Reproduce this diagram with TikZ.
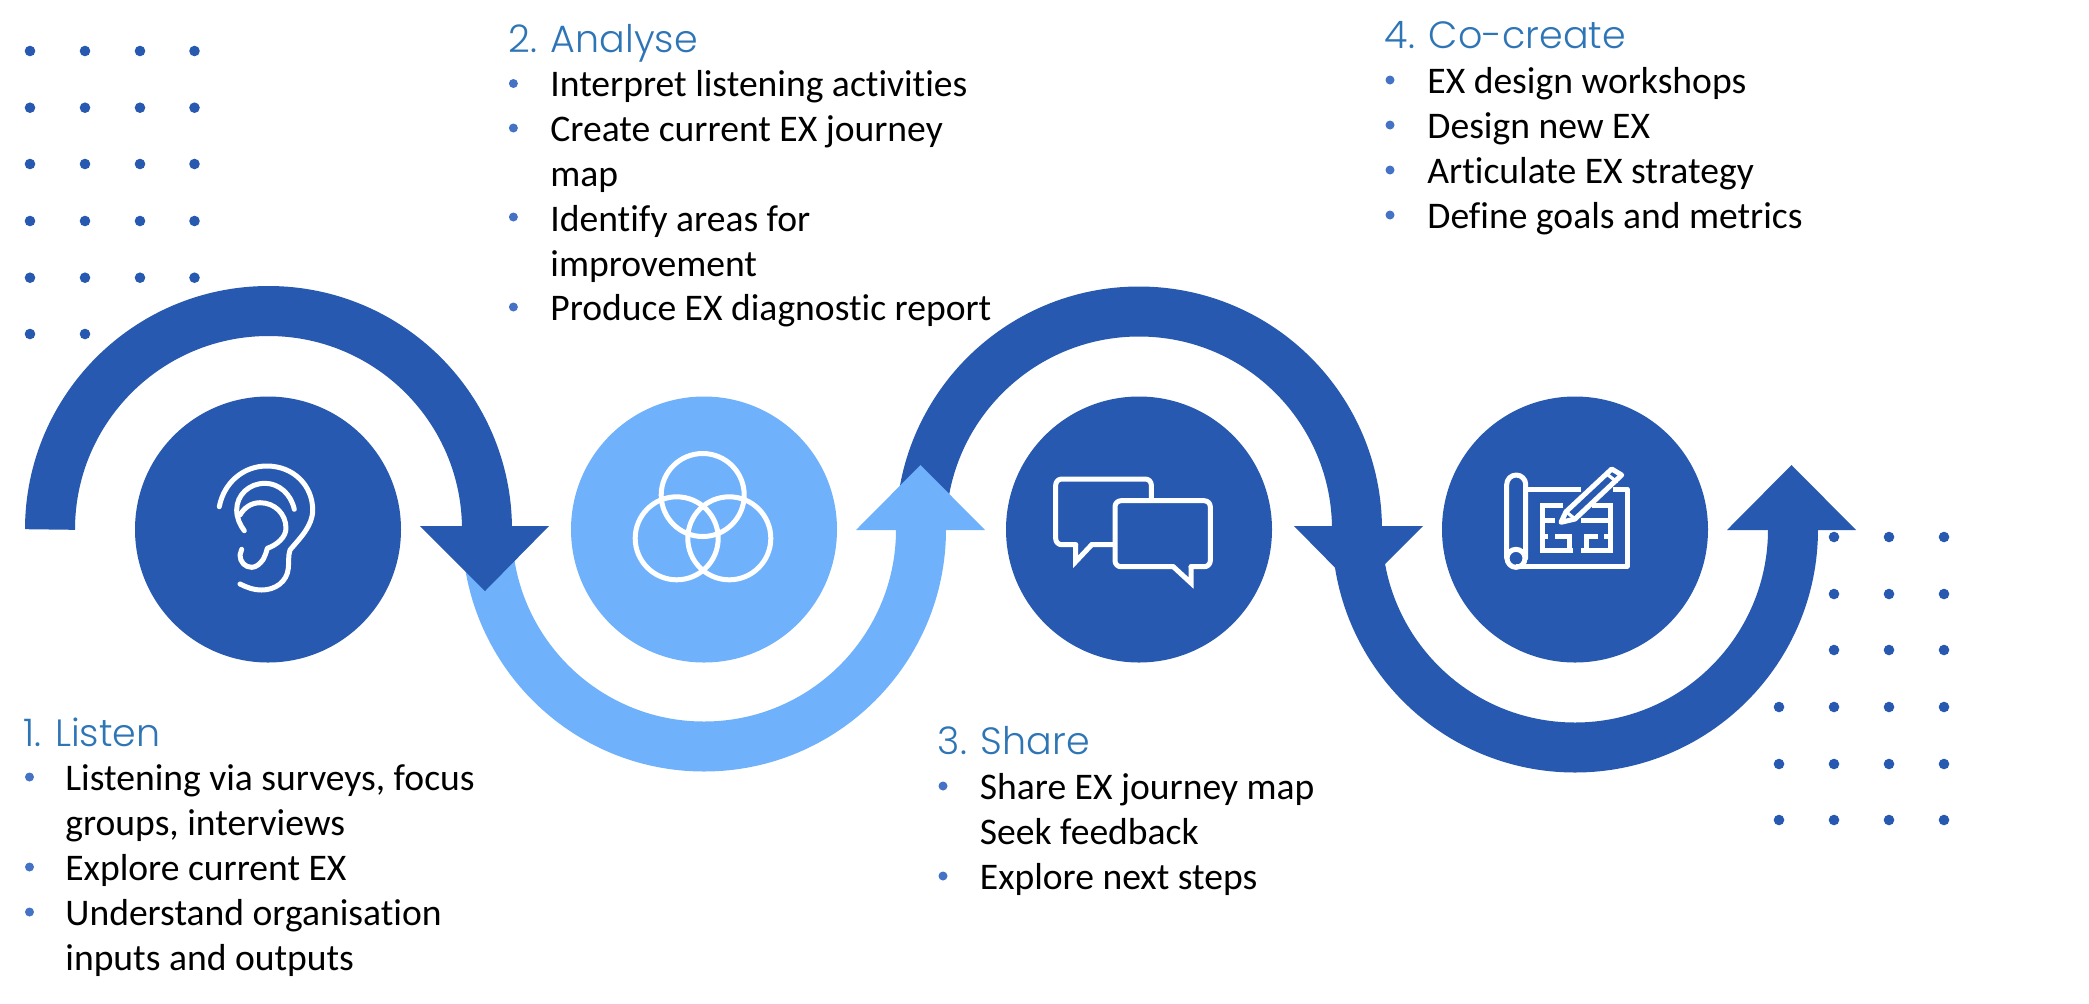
\documentclass[tikz,border=0pt]{standalone}
\usepackage{fontspec}
\setmainfont{Carlito}[Ligatures=NoCommon]
\newfontfamily\headfont{Poppins}[UprightFont=* Light]
\usetikzlibrary{calc}
\definecolor{exdark}{HTML}{2759B0}
\definecolor{exlight}{HTML}{70B1FC}
\definecolor{exhead}{HTML}{2E75B6}
\definecolor{exbullet}{HTML}{4472C4}
\tikzset{
  disc/.style={circle, inner sep=0pt, minimum size=133pt},
  ring/.style={line width=25pt, line cap=butt},
  icon/.style={draw=white, line width=2.5pt, line cap=round, line join=round},
  headtext/.style={anchor=base west, inner sep=0pt, text=exhead, font=\headfont\fontsize{19}{20}\selectfont},
  bodytext/.style={anchor=base west, inner sep=0pt, text=black, font=\fontsize{18.8}{20}\selectfont, yshift=-0.7pt},
}
\begin{document}
\begin{tikzpicture}[x=0.5pt, y=-0.5pt]
  \useasboundingbox (0,0) rectangle (2089,1003);

  % dot grids
  \foreach \dotx in {30,85,140,194.5}
    \foreach \doty in {51,107.7,164,221,277.7,334}
      \fill[exdark] (\dotx,\doty) circle[radius=5.3];
  \foreach \dotx in {1779,1834,1889,1944}
    \foreach \doty in {537,594,650,707,764,820}
      \fill[exdark] (\dotx,\doty) circle[radius=5.3];

  % discs
  \node[disc, fill=exdark] (listen) at (268,529.5) {};
  \node[disc, fill=exlight] (analyse) at (704,529.5) {};
  \node[disc, fill=exdark] (share) at (1139,529.5) {};
  \node[disc, fill=exdark] (cocreate) at (1575,529.5) {};

  % arcs and heads
  \draw[ring, draw=exlight] ($(analyse)+(-217,0)$) arc[start angle=180, end angle=0, radius=217];
  \draw[ring, draw=exdark] ($(listen)+(-218,0)$) arc[start angle=180, end angle=360, radius=218.5];
  \fill[exdark] (420,526) -- (549,526) -- (485,591) -- cycle;
  \draw[ring, draw=exdark] ($(share)+(-218,0)$) arc[start angle=180, end angle=360, radius=218];
  \fill[exlight] (856,530) -- (985,530) -- (920.5,465) -- cycle;
  \fill[exdark] (1294,526) -- (1423,526) -- (1358,591) -- cycle;
  \draw[ring, draw=exdark] ($(cocreate)+(-218,0)$) arc[start angle=180, end angle=0, radius=218];
  \fill[exdark] (1727,530) -- (1856,530) -- (1791.5,465) -- cycle;

  % ear
  \draw[icon] (219.3,506.7) .. controls (224,482) and (244,466) .. (266.7,466)
    .. controls (294,466) and (312.7,486) .. (312.7,510)
    .. controls (312.7,526) and (300,538) .. (290,550)
    .. controls (288,556) and (289,562) .. (288.3,568.3)
    .. controls (287,582) and (275,590) .. (261.7,590)
    .. controls (253,590) and (246,587) .. (240,584);
  \draw[icon] (294.3,509.3) .. controls (291,494) and (279,483.3) .. (265,483.3)
    .. controls (249,483.3) and (236.7,495) .. (236.7,510)
    .. controls (236.7,518) and (240,525) .. (244.3,530.7);
  \draw[icon] (240,515) .. controls (244,508) and (251,502.7) .. (260,502.7)
    .. controls (275,502.7) and (286,514) .. (286,528.3)
    .. controls (286,537) and (277,545) .. (267.3,548.3)
    .. controls (266,553) and (265,556) .. (263.3,559.3)
    .. controls (260,564) and (256,567.3) .. (251.7,567.3)
    .. controls (245,567.3) and (240,562) .. (240,555)
    -- (241.7,549.3);

  % venn
  \draw[icon] (702.7,495) circle[radius=41.5];
  \draw[icon] (676.7,538.3) circle[radius=41.5];
  \draw[icon] (729.3,538.3) circle[radius=41.5];

  % chat bubbles
  \draw[icon, line join=miter] (1113.3,544.7) -- (1091.7,544.7) -- (1075.7,561.7) -- (1075.7,544.7);
  \draw[icon, rounded corners=3pt] (1075.7,544.7) -- (1055.7,544.7) -- (1055.7,479) -- (1151.3,479) -- (1151.3,498);
  \draw[icon, rounded corners=3pt] (1173.3,566.7) -- (1115,566.7) -- (1115,500.7) -- (1210.3,500.7) -- (1210.3,566.7) -- (1191,566.7);
  \draw[icon, line join=miter] (1173.3,566.7) -- (1191,583) -- (1191,566.7);

  % blueprint
  \draw[icon] (1506.7,558) -- (1506.7,484.5) arc[start angle=180, end angle=360, radius=9.5] -- (1525.7,558);
  \draw[icon] (1516,558.3) circle[radius=9];
  \draw[icon, line cap=butt] (1516,566.3) -- (1627,566.3) -- (1627,489) -- (1613.3,489);
  \draw[icon, line cap=butt] (1525.7,489) -- (1580.7,489);
  \draw[icon, line cap=butt, line join=miter] (1563.3,505) -- (1542.7,505) -- (1542.7,550.7) -- (1572.7,550.7);
  \draw[icon, line cap=butt, line join=miter] (1591.7,505) -- (1610,505) -- (1610,550.7) -- (1580.7,550.7);
  \draw[icon, line cap=butt] (1542.7,520.7) -- (1555,520.7);
  \draw[icon, line cap=butt] (1542.7,536) -- (1548.3,536);
  \draw[icon, line cap=butt, line join=miter] (1555,536) -- (1569.5,536) -- (1569.5,550.7);
  \draw[icon, line cap=butt] (1581,520.7) -- (1610,520.7);
  \draw[icon, line cap=butt, line join=miter] (1586.7,550.7) -- (1586.7,536) -- (1598.3,536);
  \draw[icon, line cap=butt] (1604,536) -- (1610,536);
  \draw[icon] (1561,522.3) -- (1566,511.7) -- (1611.7,469) -- (1621.7,475) -- (1575,519) -- cycle;
  \draw[icon, line width=1.6pt] (1606.7,474) -- (1616.7,481.7);
  \draw[icon, line width=1.6pt] (1567.3,512.7) -- (1574.5,518.5);

  % 1. Listen
  \node[headtext] (listenhead) at (23,746) {1. Listen};
  \node[bodytext] (listenA) at (65,789) {Listening via surveys, focus};
  \node[bodytext] (listenB) at (65,834) {groups, interviews};
  \node[bodytext] (listenC) at (65,879) {Explore current EX};
  \node[bodytext] (listenD) at (65,924) {Understand organisation};
  \node[bodytext] (listenE) at (65,969) {inputs and outputs};
  \foreach \doty in {777,867,912}
    \fill[exbullet] (29.5,\doty) circle[radius=4.5];

  % 2. Analyse
  \node[headtext] (analysehead) at (508,52) {2. Analyse};
  \node[bodytext] (analyseA) at (550,95) {Interpret listening activities};
  \node[bodytext] (analyseB) at (550,140) {Create current EX journey};
  \node[bodytext] (analyseC) at (550,185) {map};
  \node[bodytext] (analyseD) at (550,230) {Identify areas for};
  \node[bodytext] (analyseE) at (550,275) {improvement};
  \node[bodytext] (analyseF) at (550,319.5) {Produce EX diagnostic report};
  \foreach \doty in {83.5,128,217,307}
    \fill[exbullet] (513.4,\doty) circle[radius=4.5];

  % 3. Share
  \node[headtext] (sharehead) at (937.5,754) {3. Share};
  \node[bodytext] (shareA) at (979.5,798) {Share EX journey map};
  \node[bodytext] (shareB) at (979.5,843) {Seek feedback};
  \node[bodytext] (shareC) at (979.5,888) {Explore next steps};
  \foreach \doty in {786,876}
    \fill[exbullet] (943,\doty) circle[radius=4.5];

  % 4. Co-create
  \node[headtext] (cocreatehead) at (1384.5,48.7) {4. Co-create};
  \node[bodytext] (cocreateA) at (1427,92) {EX design workshops};
  \node[bodytext] (cocreateB) at (1427,137) {Design new EX};
  \node[bodytext] (cocreateC) at (1427,182) {Articulate EX strategy};
  \node[bodytext] (cocreateD) at (1427,227) {Define goals and metrics};
  \foreach \doty in {80,125,170,215}
    \fill[exbullet] (1390,\doty) circle[radius=4.5];
\end{tikzpicture}
\end{document}
